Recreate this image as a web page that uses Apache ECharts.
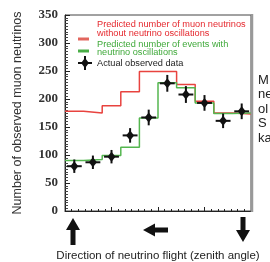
<!DOCTYPE html>
<html><head><meta charset="utf-8">
<script src="https://cdn.jsdelivr.net/npm/echarts@6/dist/echarts.min.js"></script>
<style>html,body{margin:0;padding:0;background:#fff}#c{width:270px;height:262px}</style>
</head><body><div id="c"></div>
<script>
// bin edges in cos(zenith angle)
const binEdges = [-1, -0.8, -0.6, -0.4, -0.2, 0, 0.2, 0.4, 0.6, 0.8, 1];
const binCenters = [-0.9, -0.7, -0.5, -0.3, -0.1, 0.1, 0.3, 0.5, 0.7, 0.9];
const noOscillation = [178, 175, 188, 213, 249, 249, 226, 196, 175, 173];
const withOscillation = [90, 92, 99, 114, 166, 229, 220, 193, 174, 175];
const observed = [80, 87, 97, 135, 167, 228, 208, 193, 161, 178];
const observedErr = [12, 12, 12, 13, 14, 15, 15, 14, 13, 14];
const binHalfWidth = 0.08;
const yTicks = [0, 50, 100, 150, 200, 250, 300, 350];
const legendRed = ['Predicted number of muon neutrinos', 'without neutrino oscillations'];
const legendGreen = ['Predicted number of events with', 'neutrino oscillations'];
const legendBlack = 'Actual observed data';
const sideText = ['M', 'ne', 'ol', 'S', 'ka'];

function stepData(vals) {
  const d = vals.map((v, i) => [binEdges[i], v]);
  d.push([binEdges[binEdges.length - 1], vals[vals.length - 1]]);
  return d;
}

const chart = echarts.init(document.getElementById('c'), null, {renderer: 'canvas'});
const RED = '#e8433f', GREEN = '#54b64f';
chart.setOption({
  animation: false,
  grid: {left: 65, right: 19, top: 15, bottom: 51, show: true, borderColor: '#444', borderWidth: 1,
    containLabel: false, outerBoundsMode: 'none'},
  xAxis: {
    type: 'value', min: -1, max: 1, interval: 0.5,
    axisLine: {show: true, onZero: false, lineStyle: {color: '#222', width: 1}},
    axisTick: {show: true, inside: true, length: 4, lineStyle: {color: '#222'}},
    minorTick: {show: true, splitNumber: 7, length: 2, lineStyle: {color: '#222'}},
    axisLabel: {show: false}, splitLine: {show: false},
    name: 'Direction of neutrino flight (zenith angle)', nameLocation: 'middle', nameGap: 39,
    nameTextStyle: {fontFamily: 'Liberation Sans', fontSize: 11.5, color: '#222'}
  },
  yAxis: {
    type: 'value', min: 0, max: 350, interval: 50,
    axisLine: {show: true, onZero: false, lineStyle: {color: '#222', width: 1}},
    axisTick: {show: true, inside: true, length: 5, lineStyle: {color: '#222'}},
    minorTick: {show: true, splitNumber: 10, length: 3, lineStyle: {color: '#444'}},
    splitLine: {show: false},
    axisLabel: {margin: 7, fontFamily: 'Liberation Serif', fontWeight: 'bold', fontSize: 13, color: '#333',
      formatter: v => yTicks.includes(v) ? String(v) : ''},
    name: 'Number of observed muon neutrinos', nameLocation: 'middle', nameGap: 41,
    nameTextStyle: {fontFamily: 'Liberation Sans', fontSize: 12.5, color: '#333'}
  },
  series: [
    {type: 'line', step: 'end', data: stepData(noOscillation), symbol: 'none',
      lineStyle: {color: RED, width: 1.5}},
    {type: 'line', step: 'end', data: stepData(withOscillation), symbol: 'none',
      lineStyle: {color: GREEN, width: 1.5}},
    {type: 'custom', data: binCenters.map((x, i) => [x, observed[i], observedErr[i]]),
      renderItem: function (params, api) {
        const x = api.value(0), y = api.value(1), e = api.value(2);
        const c = api.coord([x, y]);
        const top = api.coord([x, y + e]), bot = api.coord([x, y - e]);
        const l = api.coord([x - binHalfWidth, y]), r = api.coord([x + binHalfWidth, y]);
        const s = 4;
        return {type: 'group', children: [
          {type: 'line', shape: {x1: c[0], y1: top[1], x2: c[0], y2: bot[1]}, style: {stroke: '#111', lineWidth: 2}},
          {type: 'line', shape: {x1: l[0], y1: c[1], x2: r[0], y2: c[1]}, style: {stroke: '#111', lineWidth: 2}},
          {type: 'polygon', shape: {points: [[c[0], c[1] - s - 1], [c[0] + s, c[1]], [c[0], c[1] + s + 1], [c[0] - s, c[1]]]}, style: {fill: '#111'}}
        ]};
      }, z: 5}
  ],
  graphic: [
    {type: 'line', shape: {x1: 252, y1: 14, x2: 252, y2: 212}, style: {stroke: '#999', lineWidth: 2.5}, z: 10},
    // legend
    {type: 'text', left: 97, top: 20, style: {text: legendRed.join('\n'), fill: '#e5282e', font: '9.2px "Liberation Sans"', lineHeight: 8.5}},
    {type: 'line', shape: {x1: 78, y1: 39, x2: 89, y2: 39}, style: {stroke: '#e2665e', lineWidth: 3}},
    {type: 'text', left: 97, top: 39.5, style: {text: legendGreen.join('\n'), fill: '#3fa93a', font: '9.2px "Liberation Sans"', lineHeight: 8.5}},
    {type: 'line', shape: {x1: 78, y1: 51, x2: 89, y2: 51}, style: {stroke: '#4aae47', lineWidth: 3}},
    {type: 'line', shape: {x1: 85, y1: 56, x2: 85, y2: 70}, style: {stroke: '#111', lineWidth: 2}},
    {type: 'line', shape: {x1: 78, y1: 63, x2: 92, y2: 63}, style: {stroke: '#111', lineWidth: 2}},
    {type: 'polygon', shape: {points: [[85, 58], [89, 63], [85, 68], [81, 63]]}, style: {fill: '#111'}},
    {type: 'text', left: 97, top: 59, style: {text: legendBlack, fill: '#222', font: '9.2px "Liberation Sans"'}},
    // arrows
    {type: 'polygon', shape: {points: [[73, 218], [80, 230], [75.5, 230], [75.5, 245], [70.5, 245], [70.5, 230], [66, 230]]}, style: {fill: '#111'}},
    {type: 'polygon', shape: {points: [[143, 230], [155, 223.5], [155, 227.5], [168, 227.5], [168, 232.5], [155, 232.5], [155, 236.5]]}, style: {fill: '#111'}},
    {type: 'polygon', shape: {points: [[243, 242], [250, 230], [245.5, 230], [245.5, 217], [240.5, 217], [240.5, 230], [236, 230]]}, style: {fill: '#111'}},
    // side text
    {type: 'text', left: 258, top: 73, style: {text: sideText.join('\n'), fill: '#222', font: '13px "Liberation Sans"', lineHeight: 14.5}}
  ]
});
</script></body></html>
